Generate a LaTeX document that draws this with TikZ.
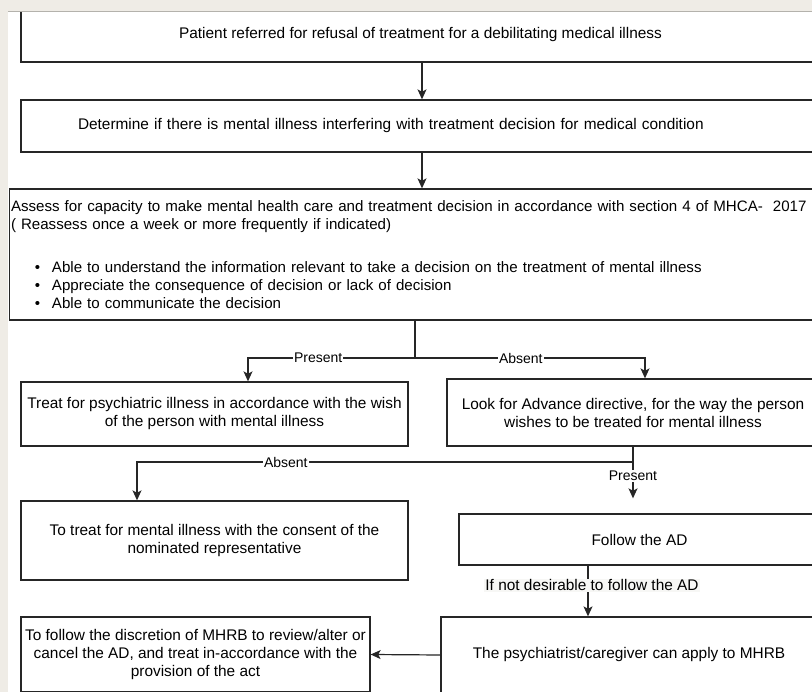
\documentclass[tikz,border=0pt]{standalone}
\usepackage{fontspec}
\setmainfont{Liberation Sans}
\usetikzlibrary{arrows.meta}
\definecolor{slidebg}{RGB}{239,236,230}
\definecolor{edgegray}{RGB}{180,178,172}
\definecolor{lblbg}{RGB}{247,247,245}
\tikzset{
  box/.style={draw=black!85, line width=1.3pt, fill=white, align=center, inner sep=0pt, font=\fontsize{15.4}{18}\selectfont},
  arr/.style={-{Stealth[length=10pt,width=9pt,inset=2.5pt]}, line width=1.2pt, black!85},
  lbl/.style={fill=white, inner sep=1pt, font=\fontsize{14}{16}\selectfont, text=black}
}
\newcommand{\bul}[1]{\hspace*{24pt}\makebox[17pt][l]{\textbullet}#1}

\begin{document}
\begin{tikzpicture}[x=1pt,y=-1pt]
    \useasboundingbox (0,0) rectangle (812,692);
    \clip (0,0) rectangle (812,692);
    \fill[white] (0,0) rectangle (812,692);

    \node[box, minimum width=799pt, minimum height=55pt] (ref) at (420.5,34.5) {Patient referred for refusal of treatment for a debilitating medical illness};
    \node[box, minimum width=799pt, minimum height=52pt, text width=685pt, inner xsep=57pt, align=left] (det) at (420.5,126) {Determine if there is mental illness interfering with treatment decision for medical condition};
    \node[box, text width=850pt, inner xsep=1.5pt, minimum height=131pt, align=left, font=\fontsize{15.1}{18}\selectfont] (cap) at (436,254.5) {Assess for capacity to make mental health care and treatment decision in accordance with section 4 of MHCA-~ 2017\\( Reassess once a week or more frequently if indicated)\\[25pt]
      \bul{Able to understand the information relevant to take a decision on the treatment of mental illness}\\
      \bul{Appreciate the consequence of decision or lack of decision}\\
      \bul{Able to communicate the decision}};

    \node[box, minimum width=387pt, minimum height=64pt] (wish) at (214.5,414) {Treat for psychiatric illness in accordance with the wish\\of the person with mental illness};
    \node[box, minimum width=372pt, minimum height=67pt] (adv) at (633,412.5) {Look for Advance directive, for the way the person\\wishes to be treated for mental illness};
    \node[box, minimum width=387pt, minimum height=79pt] (nom) at (214.5,540.5) {To treat for mental illness with the consent of the\\nominated representative};
    \node[box, minimum width=361pt, minimum height=51pt] (follow) at (639.5,539.5) {Follow the AD};
    \node[box, minimum width=376pt, minimum height=76pt] (mhrb) at (629,655) {The psychiatrist/caregiver can apply to MHRB};
    \node[box, minimum width=349pt, minimum height=75pt] (disc) at (195.5,654.5) {To follow the discretion of MHRB to review/alter or\\cancel the AD, and treat in-accordance with the\\provision of the act};

    \draw[arr] ([xshift=1.5pt]ref.south) -- ([xshift=1.5pt]det.north);
    \draw[arr] ([xshift=1.5pt]det.south) -- ([xshift=-14pt]cap.north);

    \coordinate (j1) at (415,358);
    \draw[line width=1.2pt, black!85] (cap.south -| j1) -- (j1);
    \draw[arr] (j1) -| node[lbl, pos=0.29]{Present} ([xshift=33.5pt]wish.north);
    \draw[arr] (j1) -| node[lbl, pos=0.23]{Absent} ([xshift=12pt]adv.north);

    \coordinate (j2) at (633,462);
    \draw[line width=1.2pt, black!85] (adv.south) -- (j2);
    \draw[arr] (j2) -| node[lbl, pos=0.35]{Absent} ([xshift=-77.5pt]nom.north);
    \draw[arr, shorten >=15pt] (j2) -- node[lbl, pos=0.27]{Present} (follow.north -| j2);
    \draw[arr] ([xshift=-51.5pt]follow.south) -- node[lbl, fill=lblbg, pos=0.385, xshift=4pt, font=\fontsize{15.4}{18}\selectfont]{If not desirable to follow the AD} ([xshift=-41pt]mhrb.north);
    \draw[arr] (mhrb.west) -- (disc.east);

    \fill[slidebg] (0,0) rectangle (812,11);
    \fill[slidebg] (0,0) rectangle (8,692);
    \draw[edgegray] (8,11) -- (812,11);
\end{tikzpicture}
\end{document}
